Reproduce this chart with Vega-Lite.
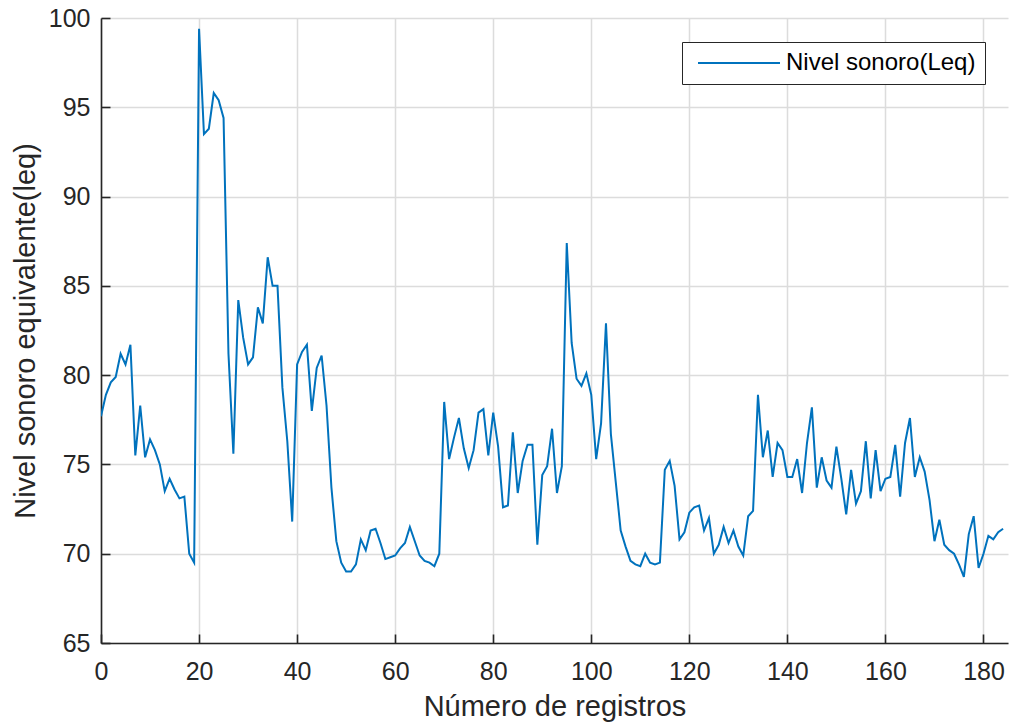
{
  "$schema": "https://vega.github.io/schema/vega-lite/v6.json",
  "autosize": "none",
  "width": 907,
  "height": 625,
  "padding": {"left": 101, "top": 18, "right": 1, "bottom": 81},
  "background": "white",
  "config": {
    "font": "Liberation Sans",
    "view": {"stroke": null},
    "axis": {
      "domainColor": "#262626",
      "domainWidth": 1.6,
      "tickColor": "#262626",
      "tickWidth": 1.6,
      "tickSize": -9,
      "gridColor": "#dcdcdc",
      "gridWidth": 1.5,
      "labelColor": "#262626",
      "labelFontSize": 25,
      "labelFlush": false,
      "titleColor": "#262626",
      "titleFontSize": 29,
      "titleFontWeight": "normal"
    }
  },
  "data": {
    "values": [
      {"x":0,"y":77.7},{"x":1,"y":78.9},{"x":2,"y":79.6},{"x":3,"y":79.9},{"x":4,"y":81.2},{"x":5,"y":80.6},{"x":6,"y":81.7},{"x":7,"y":75.5},{"x":8,"y":78.3},{"x":9,"y":75.4},
      {"x":10,"y":76.4},{"x":11,"y":75.8},{"x":12,"y":75.0},{"x":13,"y":73.5},{"x":14,"y":74.2},{"x":15,"y":73.6},{"x":16,"y":73.1},{"x":17,"y":73.2},{"x":18,"y":70.0},{"x":19,"y":69.5},
      {"x":20,"y":99.4},{"x":21,"y":93.5},{"x":22,"y":93.8},{"x":23,"y":95.8},{"x":24,"y":95.4},{"x":25,"y":94.4},{"x":26,"y":81.2},{"x":27,"y":75.6},{"x":28,"y":84.2},{"x":29,"y":82.1},
      {"x":30,"y":80.6},{"x":31,"y":81.0},{"x":32,"y":83.8},{"x":33,"y":82.9},{"x":34,"y":86.6},{"x":35,"y":85.0},{"x":36,"y":85.0},{"x":37,"y":79.3},{"x":38,"y":76.3},{"x":39,"y":71.8},
      {"x":40,"y":80.6},{"x":41,"y":81.3},{"x":42,"y":81.7},{"x":43,"y":78.0},{"x":44,"y":80.4},{"x":45,"y":81.1},{"x":46,"y":78.3},{"x":47,"y":73.7},{"x":48,"y":70.7},{"x":49,"y":69.5},
      {"x":50,"y":69.0},{"x":51,"y":69.0},{"x":52,"y":69.4},{"x":53,"y":70.8},{"x":54,"y":70.2},{"x":55,"y":71.3},{"x":56,"y":71.4},{"x":57,"y":70.6},{"x":58,"y":69.7},{"x":59,"y":69.8},
      {"x":60,"y":69.9},{"x":61,"y":70.3},{"x":62,"y":70.6},{"x":63,"y":71.5},{"x":64,"y":70.7},{"x":65,"y":69.9},{"x":66,"y":69.6},{"x":67,"y":69.5},{"x":68,"y":69.3},{"x":69,"y":70.0},
      {"x":70,"y":78.5},{"x":71,"y":75.3},{"x":72,"y":76.5},{"x":73,"y":77.6},{"x":74,"y":75.9},{"x":75,"y":74.8},{"x":76,"y":75.8},{"x":77,"y":77.9},{"x":78,"y":78.1},{"x":79,"y":75.5},
      {"x":80,"y":77.9},{"x":81,"y":76.0},{"x":82,"y":72.6},{"x":83,"y":72.7},{"x":84,"y":76.8},{"x":85,"y":73.4},{"x":86,"y":75.2},{"x":87,"y":76.1},{"x":88,"y":76.1},{"x":89,"y":70.5},
      {"x":90,"y":74.4},{"x":91,"y":74.9},{"x":92,"y":77.0},{"x":93,"y":73.4},{"x":94,"y":74.9},{"x":95,"y":87.4},{"x":96,"y":81.8},{"x":97,"y":79.8},{"x":98,"y":79.4},{"x":99,"y":80.1},
      {"x":100,"y":78.9},{"x":101,"y":75.3},{"x":102,"y":77.3},{"x":103,"y":82.9},{"x":104,"y":76.7},{"x":105,"y":74.0},{"x":106,"y":71.3},{"x":107,"y":70.4},{"x":108,"y":69.6},{"x":109,"y":69.4},
      {"x":110,"y":69.3},{"x":111,"y":70.0},{"x":112,"y":69.5},{"x":113,"y":69.4},{"x":114,"y":69.5},{"x":115,"y":74.7},{"x":116,"y":75.2},{"x":117,"y":73.8},{"x":118,"y":70.8},{"x":119,"y":71.2},
      {"x":120,"y":72.3},{"x":121,"y":72.6},{"x":122,"y":72.7},{"x":123,"y":71.3},{"x":124,"y":72.0},{"x":125,"y":70.0},{"x":126,"y":70.5},{"x":127,"y":71.5},{"x":128,"y":70.6},{"x":129,"y":71.3},
      {"x":130,"y":70.4},{"x":131,"y":69.9},{"x":132,"y":72.1},{"x":133,"y":72.4},{"x":134,"y":78.9},{"x":135,"y":75.4},{"x":136,"y":76.9},{"x":137,"y":74.3},{"x":138,"y":76.2},{"x":139,"y":75.8},
      {"x":140,"y":74.3},{"x":141,"y":74.3},{"x":142,"y":75.3},{"x":143,"y":73.4},{"x":144,"y":76.2},{"x":145,"y":78.2},{"x":146,"y":73.7},{"x":147,"y":75.4},{"x":148,"y":74.1},{"x":149,"y":73.7},
      {"x":150,"y":76.0},{"x":151,"y":74.2},{"x":152,"y":72.2},{"x":153,"y":74.7},{"x":154,"y":72.8},{"x":155,"y":73.5},{"x":156,"y":76.3},{"x":157,"y":73.1},{"x":158,"y":75.8},{"x":159,"y":73.5},
      {"x":160,"y":74.2},{"x":161,"y":74.3},{"x":162,"y":76.1},{"x":163,"y":73.2},{"x":164,"y":76.2},{"x":165,"y":77.6},{"x":166,"y":74.3},{"x":167,"y":75.4},{"x":168,"y":74.6},{"x":169,"y":73.0},
      {"x":170,"y":70.7},{"x":171,"y":71.9},{"x":172,"y":70.5},{"x":173,"y":70.2},{"x":174,"y":70.0},{"x":175,"y":69.4},{"x":176,"y":68.7},{"x":177,"y":71.1},{"x":178,"y":72.1},{"x":179,"y":69.2},
      {"x":180,"y":70.0},{"x":181,"y":71.0},{"x":182,"y":70.8},{"x":183,"y":71.2},{"x":184,"y":71.4}
    ]
  },
  "transform": [{"calculate": "'Nivel sonoro(Leq)'", "as": "serie"}],
  "mark": {"type": "line", "strokeWidth": 2, "clip": true},
  "encoding": {
    "x": {
      "field": "x", "type": "quantitative",
      "scale": {"domain": [0, 185], "nice": false, "zero": false},
      "axis": {"values": [0,20,40,60,80,100,120,140,160,180], "title": "Número de registros", "labelPadding": 25, "titlePadding": 8}
    },
    "y": {
      "field": "y", "type": "quantitative",
      "scale": {"domain": [65, 100], "nice": false, "zero": false},
      "axis": {"values": [65,70,75,80,85,90,95,100], "title": "Nivel sonoro equivalente(leq)", "labelPadding": 20, "titlePadding": 8}
    },
    "color": {
      "field": "serie", "type": "nominal",
      "scale": {"range": ["#0072BD"]},
      "legend": {
        "title": null, "orient": "none", "legendX": 581, "legendY": 24,
        "symbolType": "M-4.1,0L4.1,0", "symbolSize": 400, "symbolStrokeWidth": 2,
        "symbolOffset": 36, "labelOffset": 35, "labelLimit": 0,
        "labelFontSize": 24, "labelColor": "#000000",
        "strokeColor": "#262626", "fillColor": "white", "padding": 9
      }
    }
  }
}
